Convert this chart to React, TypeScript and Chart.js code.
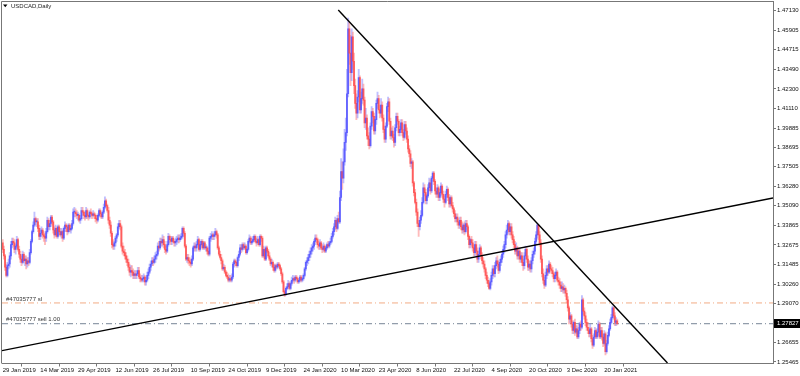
import React, { useEffect, useRef } from "react";
import { Chart, registerables } from "chart.js";
Chart.register(...registerables);

// ---------- data ----------
const symbolTitle = "USDCAD,Daily";
const firstOpen = 1.328;
const closes: number[] = [
  1.3240, 1.3200, 1.3130, 1.3080, 1.3140, 1.3150, 1.3200, 1.3270, 1.3290, 1.3280,
  1.3240, 1.3260, 1.3300, 1.3240, 1.3210, 1.3180, 1.3160, 1.3210, 1.3170, 1.3180,
  1.3150, 1.3170, 1.3160, 1.3220, 1.3290, 1.3350, 1.3390, 1.3430, 1.3410, 1.3410,
  1.3370, 1.3320, 1.3340, 1.3360, 1.3330, 1.3320, 1.3310, 1.3350, 1.3420, 1.3380,
  1.3400, 1.3440, 1.3410, 1.3360, 1.3330, 1.3370, 1.3320, 1.3380, 1.3350, 1.3330,
  1.3350, 1.3310, 1.3370, 1.3390, 1.3380, 1.3350, 1.3390, 1.3360, 1.3370, 1.3400,
  1.3470, 1.3470, 1.3460, 1.3450, 1.3450, 1.3420, 1.3430, 1.3480, 1.3470, 1.3450,
  1.3440, 1.3480, 1.3450, 1.3440, 1.3470, 1.3460, 1.3450, 1.3460, 1.3450, 1.3430,
  1.3420, 1.3450, 1.3480, 1.3460, 1.3440, 1.3470, 1.3500, 1.3540, 1.3510, 1.3480,
  1.3420, 1.3390, 1.3340, 1.3270, 1.3260, 1.3280, 1.3310, 1.3330, 1.3380, 1.3400,
  1.3380, 1.3260, 1.3230, 1.3220, 1.3200, 1.3180, 1.3160, 1.3130, 1.3100, 1.3110,
  1.3100, 1.3080, 1.3090, 1.3080, 1.3090, 1.3110, 1.3070, 1.3060, 1.3050, 1.3060,
  1.3070, 1.3040, 1.3050, 1.3080, 1.3100, 1.3130, 1.3150, 1.3170, 1.3160, 1.3180,
  1.3200, 1.3210, 1.3260, 1.3250, 1.3290, 1.3280, 1.3300, 1.3270, 1.3240, 1.3230,
  1.3270, 1.3320, 1.3300, 1.3290, 1.3310, 1.3290, 1.3280, 1.3290, 1.3300, 1.3310,
  1.3300, 1.3310, 1.3320, 1.3370, 1.3340, 1.3260, 1.3180, 1.3190, 1.3170, 1.3160,
  1.3150, 1.3180, 1.3250, 1.3260, 1.3250, 1.3270, 1.3300, 1.3240, 1.3270, 1.3290,
  1.3250, 1.3280, 1.3250, 1.3250, 1.3230, 1.3210, 1.3310, 1.3320, 1.3330, 1.3320,
  1.3330, 1.3350, 1.3330, 1.3250, 1.3210, 1.3190, 1.3170, 1.3120, 1.3130, 1.3100,
  1.3080, 1.3070, 1.3050, 1.3060, 1.3050, 1.3070, 1.3150, 1.3170, 1.3160, 1.3140,
  1.3190, 1.3210, 1.3250, 1.3240, 1.3270, 1.3250, 1.3260, 1.3220, 1.3240, 1.3290,
  1.3310, 1.3280, 1.3290, 1.3300, 1.3320, 1.3290, 1.3280, 1.3300, 1.3270, 1.3320,
  1.3310, 1.3200, 1.3240, 1.3180, 1.3250, 1.3230, 1.3200, 1.3180, 1.3150, 1.3160,
  1.3130, 1.3110, 1.3140, 1.3130, 1.3150, 1.3140, 1.3120, 1.3090, 1.3040, 1.2980,
  1.2960, 1.3000, 1.3010, 1.3030, 1.3000, 1.3030, 1.3050, 1.3060, 1.3050, 1.3070,
  1.3060, 1.3040, 1.3050, 1.3070, 1.3050, 1.3060, 1.3080, 1.3120, 1.3160, 1.3170,
  1.3190, 1.3210, 1.3230, 1.3250, 1.3260, 1.3290, 1.3310, 1.3300, 1.3270, 1.3260,
  1.3280, 1.3250, 1.3240, 1.3260, 1.3230, 1.3250, 1.3270, 1.3260, 1.3280, 1.3290,
  1.3320, 1.3350, 1.3380, 1.3420, 1.3370, 1.3430, 1.3410, 1.3560, 1.3720, 1.3680,
  1.3780, 1.3900, 1.3960, 1.4200, 1.4600, 1.4450, 1.4330, 1.4550, 1.4400, 1.4250,
  1.4140, 1.4080, 1.4180, 1.4300, 1.4100, 1.4170, 1.4230, 1.4160, 1.4020, 1.4050,
  1.3940, 1.3920, 1.3880, 1.4000, 1.4090, 1.4060, 1.3970, 1.4040, 1.4140, 1.4170,
  1.4100, 1.4080, 1.4130, 1.4050, 1.3980, 1.3920, 1.4000, 1.4120, 1.4150, 1.4030,
  1.3940, 1.3970, 1.3930, 1.3900, 1.3990, 1.4060, 1.4030, 1.3960, 1.3980, 1.4020,
  1.3960, 1.3930, 1.4010, 1.3970, 1.3920, 1.3860, 1.3830, 1.3770, 1.3780, 1.3650,
  1.3590, 1.3530, 1.3470, 1.3400, 1.3380, 1.3420, 1.3450, 1.3530, 1.3620, 1.3590,
  1.3540, 1.3570, 1.3620, 1.3650, 1.3600, 1.3680, 1.3710, 1.3660, 1.3600, 1.3580,
  1.3620, 1.3560, 1.3590, 1.3630, 1.3580, 1.3550, 1.3530, 1.3580, 1.3610, 1.3560,
  1.3520, 1.3560, 1.3510, 1.3490, 1.3460, 1.3430, 1.3440, 1.3410, 1.3390, 1.3420,
  1.3380, 1.3360, 1.3390, 1.3350, 1.3400, 1.3380, 1.3320, 1.3270, 1.3300, 1.3280,
  1.3250, 1.3220, 1.3270, 1.3230, 1.3180, 1.3210, 1.3250, 1.3200, 1.3170, 1.3150,
  1.3120, 1.3080, 1.3050, 1.3030, 1.3000, 1.3040, 1.3080, 1.3120, 1.3090, 1.3140,
  1.3170, 1.3150, 1.3110, 1.3160, 1.3180, 1.3210, 1.3240, 1.3270, 1.3330, 1.3360,
  1.3400, 1.3350, 1.3380, 1.3330, 1.3300, 1.3270, 1.3230, 1.3250, 1.3200, 1.3230,
  1.3180, 1.3200, 1.3160, 1.3140, 1.3200, 1.3240, 1.3180, 1.3130, 1.3150, 1.3120,
  1.3170, 1.3210, 1.3230, 1.3290, 1.3330, 1.3390, 1.3330, 1.3280, 1.3180, 1.3090,
  1.3050, 1.3020, 1.3080, 1.3120, 1.3100, 1.3150, 1.3120, 1.3110, 1.3090, 1.3060,
  1.3080, 1.3100, 1.3050, 1.3040, 1.3020, 1.3000, 1.3010, 1.2990, 1.3000, 1.2970,
  1.2930, 1.2880, 1.2810, 1.2830, 1.2780, 1.2740, 1.2790, 1.2730, 1.2750, 1.2700,
  1.2740, 1.2780, 1.2760, 1.2930, 1.2860, 1.2830, 1.2790, 1.2760, 1.2740, 1.2720,
  1.2750, 1.2690, 1.2650, 1.2700, 1.2740, 1.2700, 1.2730, 1.2780, 1.2700, 1.2740,
  1.2700, 1.2660, 1.2720, 1.2610, 1.2660, 1.2710, 1.2750, 1.2790, 1.2820, 1.2880,
  1.2830, 1.2790, 1.2800, 1.27827,
];
const highs: number[] = [
  1.3300, 1.3260, 1.3210, 1.3150, 1.3160, 1.3180, 1.3220, 1.3290, 1.3310, 1.3310,
  1.3300, 1.3270, 1.3320, 1.3310, 1.3260, 1.3230, 1.3200, 1.3230, 1.3220, 1.3200,
  1.3200, 1.3190, 1.3190, 1.3240, 1.3300, 1.3360, 1.3410, 1.3470, 1.3440, 1.3430,
  1.3430, 1.3390, 1.3370, 1.3380, 1.3370, 1.3350, 1.3340, 1.3370, 1.3440, 1.3430,
  1.3420, 1.3450, 1.3450, 1.3420, 1.3380, 1.3390, 1.3380, 1.3390, 1.3390, 1.3370,
  1.3370, 1.3360, 1.3380, 1.3410, 1.3400, 1.3390, 1.3400, 1.3400, 1.3390, 1.3420,
  1.3490, 1.3500, 1.3490, 1.3480, 1.3470, 1.3460, 1.3450, 1.3500, 1.3500, 1.3480,
  1.3470, 1.3500, 1.3490, 1.3460, 1.3480, 1.3490, 1.3470, 1.3480, 1.3470, 1.3460,
  1.3450, 1.3460, 1.3490, 1.3490, 1.3470, 1.3480, 1.3520, 1.3565, 1.3550, 1.3520,
  1.3500, 1.3440, 1.3410, 1.3350, 1.3300, 1.3290, 1.3320, 1.3340, 1.3400, 1.3420,
  1.3420, 1.3390, 1.3280, 1.3260, 1.3240, 1.3220, 1.3200, 1.3180, 1.3150, 1.3140,
  1.3140, 1.3120, 1.3110, 1.3110, 1.3110, 1.3130, 1.3130, 1.3090, 1.3080, 1.3080,
  1.3090, 1.3080, 1.3070, 1.3100, 1.3120, 1.3150, 1.3170, 1.3190, 1.3190, 1.3200,
  1.3220, 1.3230, 1.3280, 1.3290, 1.3310, 1.3310, 1.3330, 1.3320, 1.3290, 1.3260,
  1.3290, 1.3340, 1.3330, 1.3320, 1.3320, 1.3320, 1.3300, 1.3310, 1.3320, 1.3330,
  1.3330, 1.3330, 1.3340, 1.3380, 1.3380, 1.3350, 1.3270, 1.3210, 1.3210, 1.3190,
  1.3180, 1.3200, 1.3260, 1.3280, 1.3280, 1.3290, 1.3320, 1.3310, 1.3290, 1.3300,
  1.3300, 1.3290, 1.3290, 1.3270, 1.3260, 1.3250, 1.3320, 1.3340, 1.3350, 1.3340,
  1.3350, 1.3370, 1.3360, 1.3340, 1.3260, 1.3230, 1.3210, 1.3180, 1.3150, 1.3140,
  1.3110, 1.3100, 1.3090, 1.3080, 1.3080, 1.3090, 1.3160, 1.3180, 1.3180, 1.3170,
  1.3200, 1.3230, 1.3270, 1.3270, 1.3280, 1.3280, 1.3280, 1.3270, 1.3250, 1.3300,
  1.3330, 1.3320, 1.3310, 1.3320, 1.3330, 1.3330, 1.3310, 1.3320, 1.3310, 1.3330,
  1.3330, 1.3320, 1.3260, 1.3250, 1.3260, 1.3260, 1.3240, 1.3220, 1.3190, 1.3180,
  1.3170, 1.3150, 1.3150, 1.3150, 1.3160, 1.3160, 1.3150, 1.3130, 1.3100, 1.3050,
  1.2990, 1.3010, 1.3030, 1.3050, 1.3040, 1.3040, 1.3070, 1.3080, 1.3070, 1.3080,
  1.3080, 1.3070, 1.3060, 1.3080, 1.3080, 1.3070, 1.3090, 1.3130, 1.3170, 1.3190,
  1.3210, 1.3230, 1.3250, 1.3270, 1.3280, 1.3300, 1.3330, 1.3330, 1.3310, 1.3290,
  1.3300, 1.3290, 1.3270, 1.3280, 1.3270, 1.3260, 1.3280, 1.3290, 1.3290, 1.3310,
  1.3340, 1.3370, 1.3400, 1.3440, 1.3430, 1.3450, 1.3470, 1.3600, 1.3800, 1.3780,
  1.3860, 1.3980, 1.4050, 1.4350, 1.4667, 1.4640, 1.4560, 1.4600, 1.4580, 1.4450,
  1.4290, 1.4200, 1.4220, 1.4350, 1.4310, 1.4210, 1.4290, 1.4260, 1.4180, 1.4110,
  1.4070, 1.3990, 1.3960, 1.4020, 1.4120, 1.4110, 1.4080, 1.4060, 1.4160, 1.4210,
  1.4190, 1.4130, 1.4170, 1.4150, 1.4070, 1.4000, 1.4020, 1.4140, 1.4180, 1.4170,
  1.4050, 1.3990, 1.4000, 1.3950, 1.4010, 1.4080, 1.4080, 1.4040, 1.4000, 1.4040,
  1.4040, 1.3980, 1.4030, 1.4030, 1.3990, 1.3940, 1.3880, 1.3850, 1.3800, 1.3790,
  1.3660, 1.3610, 1.3550, 1.3490, 1.3420, 1.3440, 1.3480, 1.3560, 1.3650, 1.3640,
  1.3610, 1.3580, 1.3640, 1.3680, 1.3670, 1.3690, 1.3720, 1.3720, 1.3670, 1.3620,
  1.3640, 1.3630, 1.3610, 1.3650, 1.3640, 1.3600, 1.3570, 1.3600, 1.3630, 1.3620,
  1.3580, 1.3570, 1.3570, 1.3530, 1.3500, 1.3480, 1.3460, 1.3460, 1.3430, 1.3440,
  1.3440, 1.3410, 1.3400, 1.3410, 1.3420, 1.3420, 1.3390, 1.3330, 1.3310, 1.3320,
  1.3300, 1.3270, 1.3290, 1.3290, 1.3250, 1.3230, 1.3270, 1.3260, 1.3220, 1.3190,
  1.3170, 1.3130, 1.3100, 1.3070, 1.3050, 1.3060, 1.3100, 1.3140, 1.3140, 1.3160,
  1.3190, 1.3200, 1.3170, 1.3180, 1.3200, 1.3230, 1.3260, 1.3290, 1.3350, 1.3390,
  1.3420, 1.3410, 1.3400, 1.3400, 1.3350, 1.3320, 1.3290, 1.3280, 1.3260, 1.3250,
  1.3250, 1.3220, 1.3220, 1.3180, 1.3220, 1.3260, 1.3250, 1.3200, 1.3170, 1.3170,
  1.3190, 1.3230, 1.3250, 1.3310, 1.3350, 1.3400, 1.3390, 1.3350, 1.3300, 1.3200,
  1.3120, 1.3070, 1.3100, 1.3140, 1.3140, 1.3170, 1.3160, 1.3140, 1.3130, 1.3100,
  1.3100, 1.3120, 1.3110, 1.3070, 1.3060, 1.3040, 1.3040, 1.3030, 1.3020, 1.3010,
  1.2990, 1.2950, 1.2890, 1.2850, 1.2840, 1.2800, 1.2800, 1.2810, 1.2770, 1.2770,
  1.2760, 1.2790, 1.2800, 1.2955, 1.2940, 1.2880, 1.2850, 1.2810, 1.2790, 1.2760,
  1.2780, 1.2760, 1.2710, 1.2720, 1.2760, 1.2750, 1.2750, 1.2800, 1.2790, 1.2760,
  1.2760, 1.2720, 1.2740, 1.2730, 1.2680, 1.2730, 1.2770, 1.2810, 1.2840, 1.2890,
  1.2885, 1.2850, 1.2820, 1.2810,
];
const lows: number[] = [
  1.3220, 1.3180, 1.3110, 1.3070, 1.3070, 1.3120, 1.3130, 1.3180, 1.3250, 1.3260,
  1.3220, 1.3210, 1.3250, 1.3230, 1.3190, 1.3160, 1.3140, 1.3150, 1.3160, 1.3140,
  1.3120, 1.3130, 1.3140, 1.3150, 1.3210, 1.3280, 1.3340, 1.3380, 1.3390, 1.3380,
  1.3350, 1.3300, 1.3300, 1.3320, 1.3310, 1.3290, 1.3270, 1.3290, 1.3340, 1.3360,
  1.3360, 1.3380, 1.3390, 1.3340, 1.3310, 1.3320, 1.3310, 1.3310, 1.3330, 1.3320,
  1.3310, 1.3290, 1.3300, 1.3350, 1.3350, 1.3330, 1.3340, 1.3350, 1.3340, 1.3360,
  1.3390, 1.3440, 1.3440, 1.3430, 1.3420, 1.3410, 1.3400, 1.3420, 1.3450, 1.3430,
  1.3420, 1.3430, 1.3430, 1.3420, 1.3430, 1.3440, 1.3430, 1.3440, 1.3430, 1.3410,
  1.3400, 1.3410, 1.3440, 1.3440, 1.3430, 1.3430, 1.3460, 1.3490, 1.3500, 1.3470,
  1.3400, 1.3370, 1.3320, 1.3250, 1.3240, 1.3240, 1.3260, 1.3290, 1.3320, 1.3370,
  1.3360, 1.3250, 1.3210, 1.3200, 1.3180, 1.3160, 1.3140, 1.3110, 1.3080, 1.3070,
  1.3080, 1.3060, 1.3060, 1.3060, 1.3060, 1.3080, 1.3060, 1.3040, 1.3040, 1.3040,
  1.3040, 1.3020, 1.3020, 1.3040, 1.3060, 1.3090, 1.3110, 1.3140, 1.3140, 1.3150,
  1.3160, 1.3180, 1.3200, 1.3230, 1.3240, 1.3260, 1.3260, 1.3250, 1.3220, 1.3210,
  1.3220, 1.3260, 1.3280, 1.3270, 1.3270, 1.3280, 1.3260, 1.3260, 1.3270, 1.3280,
  1.3280, 1.3290, 1.3300, 1.3310, 1.3320, 1.3250, 1.3170, 1.3160, 1.3150, 1.3140,
  1.3130, 1.3140, 1.3170, 1.3230, 1.3230, 1.3230, 1.3260, 1.3230, 1.3230, 1.3260,
  1.3240, 1.3240, 1.3240, 1.3230, 1.3210, 1.3200, 1.3200, 1.3290, 1.3300, 1.3300,
  1.3300, 1.3320, 1.3310, 1.3240, 1.3200, 1.3180, 1.3150, 1.3110, 1.3110, 1.3090,
  1.3070, 1.3060, 1.3040, 1.3040, 1.3040, 1.3040, 1.3060, 1.3130, 1.3140, 1.3130,
  1.3130, 1.3170, 1.3200, 1.3220, 1.3230, 1.3240, 1.3240, 1.3210, 1.3210, 1.3230,
  1.3280, 1.3270, 1.3270, 1.3280, 1.3290, 1.3280, 1.3260, 1.3270, 1.3260, 1.3260,
  1.3290, 1.3190, 1.3190, 1.3170, 1.3170, 1.3220, 1.3190, 1.3170, 1.3140, 1.3130,
  1.3110, 1.3100, 1.3100, 1.3120, 1.3120, 1.3130, 1.3110, 1.3080, 1.3030, 1.2970,
  1.2950, 1.2960, 1.2990, 1.3000, 1.2990, 1.2990, 1.3020, 1.3040, 1.3030, 1.3040,
  1.3050, 1.3030, 1.3030, 1.3040, 1.3040, 1.3040, 1.3050, 1.3070, 1.3110, 1.3140,
  1.3150, 1.3170, 1.3190, 1.3210, 1.3230, 1.3240, 1.3270, 1.3280, 1.3250, 1.3240,
  1.3240, 1.3240, 1.3220, 1.3230, 1.3220, 1.3220, 1.3240, 1.3250, 1.3250, 1.3270,
  1.3280, 1.3310, 1.3330, 1.3360, 1.3350, 1.3360, 1.3400, 1.3400, 1.3540, 1.3610,
  1.3650, 1.3760, 1.3850, 1.3940, 1.4180, 1.4380, 1.4250, 1.4280, 1.4350, 1.4200,
  1.4110, 1.4040, 1.4050, 1.4150, 1.4080, 1.4080, 1.4140, 1.4130, 1.3990, 1.3980,
  1.3920, 1.3880, 1.3860, 1.3870, 1.3980, 1.4020, 1.3950, 1.3950, 1.4010, 1.4110,
  1.4080, 1.4050, 1.4060, 1.4030, 1.3960, 1.3900, 1.3900, 1.3990, 1.4090, 1.4010,
  1.3920, 1.3920, 1.3910, 1.3870, 1.3880, 1.3970, 1.4010, 1.3940, 1.3940, 1.3960,
  1.3940, 1.3910, 1.3920, 1.3950, 1.3900, 1.3840, 1.3810, 1.3750, 1.3740, 1.3630,
  1.3570, 1.3520, 1.3450, 1.3380, 1.3320, 1.3360, 1.3400, 1.3440, 1.3520, 1.3570,
  1.3520, 1.3520, 1.3560, 1.3600, 1.3580, 1.3590, 1.3660, 1.3640, 1.3580, 1.3560,
  1.3560, 1.3540, 1.3540, 1.3570, 1.3560, 1.3530, 1.3500, 1.3520, 1.3560, 1.3540,
  1.3500, 1.3500, 1.3500, 1.3470, 1.3440, 1.3410, 1.3410, 1.3390, 1.3370, 1.3370,
  1.3360, 1.3340, 1.3340, 1.3330, 1.3340, 1.3360, 1.3300, 1.3250, 1.3250, 1.3260,
  1.3230, 1.3200, 1.3200, 1.3210, 1.3160, 1.3160, 1.3200, 1.3180, 1.3150, 1.3130,
  1.3100, 1.3060, 1.3030, 1.3010, 1.2994, 1.2990, 1.3020, 1.3060, 1.3070, 1.3070,
  1.3120, 1.3130, 1.3090, 1.3100, 1.3140, 1.3160, 1.3190, 1.3220, 1.3250, 1.3310,
  1.3340, 1.3330, 1.3330, 1.3310, 1.3280, 1.3250, 1.3210, 1.3210, 1.3180, 1.3180,
  1.3160, 1.3160, 1.3140, 1.3110, 1.3120, 1.3180, 1.3160, 1.3110, 1.3110, 1.3100,
  1.3100, 1.3150, 1.3190, 1.3210, 1.3270, 1.3310, 1.3300, 1.3260, 1.3160, 1.3070,
  1.3030, 1.3000, 1.3010, 1.3060, 1.3080, 1.3090, 1.3100, 1.3090, 1.3070, 1.3040,
  1.3040, 1.3060, 1.3040, 1.3020, 1.3000, 1.2980, 1.2980, 1.2970, 1.2970, 1.2950,
  1.2910, 1.2860, 1.2780, 1.2790, 1.2760, 1.2720, 1.2720, 1.2710, 1.2720, 1.2690,
  1.2690, 1.2720, 1.2740, 1.2750, 1.2840, 1.2810, 1.2770, 1.2740, 1.2720, 1.2700,
  1.2700, 1.2670, 1.2630, 1.2640, 1.2690, 1.2690, 1.2690, 1.2710, 1.2690, 1.2690,
  1.2680, 1.2640, 1.2650, 1.2590, 1.2600, 1.2650, 1.2700, 1.2740, 1.2780, 1.2810,
  1.2810, 1.2770, 1.2770, 1.2775,
];

const dateTickBars = [0, 32, 64, 96, 128, 160, 192, 224, 256, 288, 320, 352, 384, 416, 448, 480, 512];
const dateTickLabels = [
  "29 Jan 2019", "14 Mar 2019", "29 Apr 2019", "12 Jun 2019", "26 Jul 2019", "10 Sep 2019",
  "24 Oct 2019", "9 Dec 2019", "24 Jan 2020", "10 Mar 2020", "23 Apr 2020", "8 Jun 2020",
  "22 Jul 2020", "4 Sep 2020", "20 Oct 2020", "3 Dec 2020", "20 Jan 2021",
];
const priceTicks = [
  1.4713, 1.45905, 1.44715, 1.4349, 1.423, 1.4111, 1.39885, 1.38695, 1.37505,
  1.3628, 1.3509, 1.33865, 1.32675, 1.31485, 1.3026, 1.2907, 1.26655, 1.25465,
];
const currentPrice = 1.27827;
const slPrice = 1.291;
const sellPrice = 1.2782;
const slLabel = "#47035777 sl";
const sellLabel = "#47035777 sell 1.00";
const downTrendBars = [285.6, 565.8];
const downTrendPrices = [1.4716, 1.254];
const upTrendBars = [-0.6, 655.6];
const upTrendPrices = [1.2616, 1.3557];
const barRange = [-0.6, 655.6];
const priceRange = [1.25367, 1.47716];

// ---------- styles ----------
const FONT = "'Liberation Sans', Arial, sans-serif";
const BULL_BODY = "rgba(75,75,255,0.8)";
const BEAR_BODY = "rgba(255,70,70,0.8)";
const BULL_WICK = "rgba(130,130,255,0.5)";
const BEAR_WICK = "rgba(255,120,120,0.5)";
const FRAME = "#777777";
const TEXT = "#111111";

function openOf(i: number) {
  return i === 0 ? firstOpen : closes[i - 1];
}
function isBull(i: number) {
  return closes[i] >= openOf(i);
}

const overlayPlugin = {
  id: "mt4overlay",
  afterDatasetsDraw(chart: any) {
    const { ctx, chartArea, scales } = chart;
    const y = scales.y;
    ctx.save();
    ctx.font = `6px ${FONT}`;
    ctx.fillStyle = "#333";
    ctx.textBaseline = "middle";
    ctx.textAlign = "left";
    ctx.fillText(slLabel, chartArea.left + 4, y.getPixelForValue(slPrice) - 4);
    ctx.fillText(sellLabel, chartArea.left + 4, y.getPixelForValue(sellPrice) - 4.5);
    ctx.restore();
  },
  afterDraw(chart: any) {
    const { ctx, chartArea, scales } = chart;
    ctx.save();
    ctx.strokeStyle = FRAME;
    ctx.lineWidth = 1;
    ctx.beginPath();
    ctx.moveTo(chartArea.left - 0.5, chartArea.bottom);
    ctx.lineTo(chartArea.left - 0.5, chartArea.top + 0.5);
    ctx.lineTo(chartArea.right, chartArea.top + 0.5);
    ctx.stroke();
    ctx.fillStyle = "#000";
    ctx.beginPath();
    ctx.moveTo(3, 4.5);
    ctx.lineTo(7.5, 4.5);
    ctx.lineTo(5.25, 7.2);
    ctx.closePath();
    ctx.fill();
    ctx.font = `6px ${FONT}`;
    ctx.fillStyle = "#222";
    ctx.textBaseline = "middle";
    ctx.textAlign = "left";
    ctx.fillText(symbolTitle, 11, 6);
    const py = scales.y.getPixelForValue(currentPrice);
    ctx.fillStyle = "#000";
    ctx.fillRect(chartArea.right + 1, Math.round(py - 4.5), 26, 9);
    ctx.fillStyle = "#fff";
    ctx.fillText(currentPrice.toFixed(5), chartArea.right + 4, py);
    ctx.restore();
  },
};

export default function App() {
  const ref = useRef<HTMLCanvasElement | null>(null);
  useEffect(() => {
    document.body.style.margin = "0";
    const canvas = ref.current;
    if (!canvas) return;
    const hLine = (price: number) => [
      { x: barRange[0], y: price },
      { x: barRange[1], y: price },
    ];
    const chart = new Chart(canvas, {
      type: "bar",
      data: {
        datasets: [
          {
            type: "line",
            data: hLine(slPrice),
            borderColor: "rgb(242,172,132)",
            borderWidth: 1,
            borderDash: [6, 3, 1, 3],
            pointRadius: 0,
            order: 4,
            clip: 0,
          } as any,
          {
            type: "line",
            data: hLine(sellPrice),
            borderColor: "rgb(118,132,150)",
            borderWidth: 1,
            borderDash: [6, 3, 1, 3],
            pointRadius: 0,
            order: 4,
            clip: 0,
          } as any,
          {
            type: "bar",
            data: closes.map((c, i) => ({ x: i, y: [lows[i], highs[i]] })),
            backgroundColor: (ctx: any) => (isBull(ctx.dataIndex) ? BULL_WICK : BEAR_WICK),
            borderWidth: 0,
            barThickness: 1.2,
            minBarLength: 1,
            grouped: false,
            order: 3,
          } as any,
          {
            type: "bar",
            data: closes.map((c, i) => ({ x: i, y: [openOf(i), c] })),
            backgroundColor: (ctx: any) => (isBull(ctx.dataIndex) ? BULL_BODY : BEAR_BODY),
            borderWidth: 0,
            barThickness: 1.2,
            minBarLength: 1,
            grouped: false,
            order: 2,
          } as any,
          {
            type: "line",
            data: upTrendBars.map((b, k) => ({ x: b, y: upTrendPrices[k] })),
            borderColor: "#000",
            borderWidth: 1.4,
            pointRadius: 0,
            order: 1,
            clip: 0,
          } as any,
          {
            type: "line",
            data: downTrendBars.map((b, k) => ({ x: b, y: downTrendPrices[k] })),
            borderColor: "#000",
            borderWidth: 1.4,
            pointRadius: 0,
            order: 1,
            clip: 0,
          } as any,
        ],
      },
      options: {
        animation: false,
        responsive: false,
        maintainAspectRatio: false,
        devicePixelRatio: 1,
        events: [],
        layout: { padding: { left: 2, top: 1, right: 0, bottom: 0 } },
        plugins: { legend: { display: false }, tooltip: { enabled: false } },
        scales: {
          x: {
            type: "linear",
            min: barRange[0],
            max: barRange[1],
            offset: false,
            position: "bottom",
            afterBuildTicks: (s: any) => {
              s.ticks = dateTickBars.map((v) => ({ value: v }));
            },
            afterFit: (s: any) => {
              s.height = 12.5;
              s.paddingLeft = 0;
              s.paddingRight = 0;
            },
            grid: { display: true, drawOnChartArea: false, drawTicks: true, tickLength: 3, color: FRAME },
            border: { display: true, color: FRAME },
            ticks: {
              autoSkip: false,
              maxRotation: 0,
              minRotation: 0,
              align: "start",
              padding: 0,
              color: TEXT,
              font: { size: 6, family: FONT },
              callback: (v: any) => {
                const k = dateTickBars.indexOf(Number(v));
                return k >= 0 ? dateTickLabels[k] : "";
              },
            },
          } as any,
          y: {
            type: "linear",
            position: "right",
            min: priceRange[0],
            max: priceRange[1],
            afterBuildTicks: (s: any) => {
              s.ticks = priceTicks.map((v) => ({ value: v }));
            },
            afterFit: (s: any) => {
              s.width = 27;
              s.paddingTop = 0;
              s.paddingBottom = 0;
            },
            grid: { display: true, drawOnChartArea: false, drawTicks: true, tickLength: 3, color: FRAME },
            border: { display: true, color: FRAME },
            ticks: {
              autoSkip: false,
              padding: 1,
              color: TEXT,
              font: { size: 6, family: FONT },
              callback: (v: any) => Number(v).toFixed(5),
            },
          } as any,
        },
      },
      plugins: [overlayPlugin],
    });
    return () => chart.destroy();
  }, []);
  return (
    <div style={{ position: "fixed", left: 0, top: 0, width: 800, height: 376, background: "#fff" }}>
      <canvas ref={ref} width={800} height={376} style={{ display: "block", width: 800, height: 376 }} />
    </div>
  );
}
